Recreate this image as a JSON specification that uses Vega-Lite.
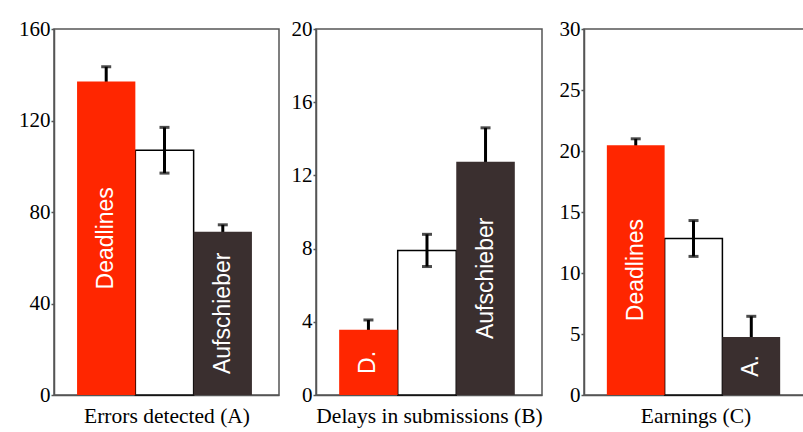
{
  "$schema": "https://vega.github.io/schema/vega-lite/v6.json",
  "padding": {"left": 17, "top": 17, "right": 0, "bottom": 5},
  "spacing": 5,
  "background": "white",
  "config": {
    "view": {"stroke": "#555555", "strokeWidth": 1.5},
    "axis": {"grid": false, "domainColor": "#555555", "domainWidth": 1.5, "tickColor": "#555555", "tickSize": 3, "tickWidth": 1.5, "labelFont": "Liberation Serif", "labelFontSize": 21, "labelColor": "black", "labelPadding": 1, "titleFont": "Liberation Serif", "titleFontSize": 21.5, "titleFontWeight": "normal", "titleColor": "black"},
    "axisX": {"labels": false, "ticks": false, "titleBaseline": "alphabetic", "titlePadding": 27}
  },
  "datasets": {
    "A": [
      {"group": "Deadlines", "value": 137, "err": 6.5, "label": "Deadlines"},
      {"group": "Kontrolle", "value": 107, "err": 10, "label": ""},
      {"group": "Aufschieber", "value": 71.4, "err": 3, "label": "Aufschieber"}
    ],
    "B": [
      {"group": "Deadlines", "value": 3.56, "err": 0.54, "label": "D."},
      {"group": "Kontrolle", "value": 7.9, "err": 0.88, "label": ""},
      {"group": "Aufschieber", "value": 12.75, "err": 1.85, "label": "Aufschieber"}
    ],
    "C": [
      {"group": "Deadlines", "value": 20.48, "err": 0.52, "label": "Deadlines"},
      {"group": "Kontrolle", "value": 12.83, "err": 1.47, "label": ""},
      {"group": "Aufschieber", "value": 4.76, "err": 1.69, "label": "A."}
    ]
  },
  "hconcat": [
    {
      "width": 225, "height": 366,
      "data": {"name": "A"},
      "resolve": {"scale": {"y": "independent"}},
      "layer": [
        {"layer": [
          {"transform": [{"filter": "datum.group === 'Kontrolle'"}],
           "mark": {"type": "bar", "fill": "white", "stroke": "black", "strokeWidth": 1.5},
           "encoding": {
             "x": {"field": "group", "type": "nominal", "scale": {"domain": ["Deadlines", "Kontrolle", "Aufschieber"], "paddingInner": 0, "paddingOuter": 0.43, "align": 0.46}, "axis": {"title": "Errors detected (A)"}},
             "y": {"field": "value", "type": "quantitative", "scale": {"domain": [0, 160]}, "axis": {"title": null, "values": [0, 40, 80, 120, 160], "minExtent": 36}}
           }},
          {"mark": {"type": "errorbar", "ticks": {"size": 10}, "thickness": 3, "color": "black"},
           "encoding": {
             "x": {"field": "group", "type": "nominal"},
             "y": {"field": "value", "type": "quantitative"},
             "yError": {"field": "err"}
           }},
          {"transform": [{"filter": "datum.group !== 'Kontrolle'"}],
           "mark": {"type": "bar"},
           "encoding": {
             "x": {"field": "group", "type": "nominal"},
             "y": {"field": "value", "type": "quantitative"},
             "color": {"field": "group", "type": "nominal", "scale": {"domain": ["Deadlines", "Aufschieber"], "range": ["#FF2600", "#3A2F2F"]}, "legend": null}
           }}
        ]},
        {"transform": [{"filter": "datum.label !== ''"}],
         "mark": {"type": "text", "angle": 270, "font": "Liberation Sans", "fontSize": 23, "color": "white", "align": "center", "baseline": "middle"},
         "encoding": {
           "x": {"field": "group", "type": "nominal"},
           "y": {"field": "value", "type": "quantitative", "scale": {"domain": [0, 320]}, "axis": null},
           "text": {"field": "label"}
         }}
      ]
    },
    {
      "width": 226, "height": 366,
      "data": {"name": "B"},
      "resolve": {"scale": {"y": "independent"}},
      "layer": [
        {"layer": [
          {"transform": [{"filter": "datum.group === 'Kontrolle'"}],
           "mark": {"type": "bar", "fill": "white", "stroke": "black", "strokeWidth": 1.5},
           "encoding": {
             "x": {"field": "group", "type": "nominal", "scale": {"domain": ["Deadlines", "Kontrolle", "Aufschieber"], "paddingInner": 0, "paddingOuter": 0.43, "align": 0.46}, "axis": {"title": "Delays in submissions (B)"}},
             "y": {"field": "value", "type": "quantitative", "scale": {"domain": [0, 20]}, "axis": {"title": null, "values": [0, 4, 8, 12, 16, 20], "minExtent": 30}}
           }},
          {"mark": {"type": "errorbar", "ticks": {"size": 10}, "thickness": 3, "color": "black"},
           "encoding": {
             "x": {"field": "group", "type": "nominal"},
             "y": {"field": "value", "type": "quantitative"},
             "yError": {"field": "err"}
           }},
          {"transform": [{"filter": "datum.group !== 'Kontrolle'"}],
           "mark": {"type": "bar"},
           "encoding": {
             "x": {"field": "group", "type": "nominal"},
             "y": {"field": "value", "type": "quantitative"},
             "color": {"field": "group", "type": "nominal", "scale": {"domain": ["Deadlines", "Aufschieber"], "range": ["#FF2600", "#3A2F2F"]}, "legend": null}
           }}
        ]},
        {"transform": [{"filter": "datum.label !== ''"}],
         "mark": {"type": "text", "angle": 270, "font": "Liberation Sans", "fontSize": 23, "color": "white", "align": "center", "baseline": "middle"},
         "encoding": {
           "x": {"field": "group", "type": "nominal"},
           "y": {"field": "value", "type": "quantitative", "scale": {"domain": [0, 40]}, "axis": null},
           "text": {"field": "label"}
         }}
      ]
    },
    {
      "width": 223, "height": 366,
      "data": {"name": "C"},
      "resolve": {"scale": {"y": "independent"}},
      "layer": [
        {"layer": [
          {"transform": [{"filter": "datum.group === 'Kontrolle'"}],
           "mark": {"type": "bar", "fill": "white", "stroke": "black", "strokeWidth": 1.5},
           "encoding": {
             "x": {"field": "group", "type": "nominal", "scale": {"domain": ["Deadlines", "Kontrolle", "Aufschieber"], "paddingInner": 0, "paddingOuter": 0.43, "align": 0.46}, "axis": {"title": "Earnings (C)"}},
             "y": {"field": "value", "type": "quantitative", "scale": {"domain": [0, 30]}, "axis": {"title": null, "values": [0, 5, 10, 15, 20, 25, 30], "minExtent": 35}}
           }},
          {"mark": {"type": "errorbar", "ticks": {"size": 10}, "thickness": 3, "color": "black"},
           "encoding": {
             "x": {"field": "group", "type": "nominal"},
             "y": {"field": "value", "type": "quantitative"},
             "yError": {"field": "err"}
           }},
          {"transform": [{"filter": "datum.group !== 'Kontrolle'"}],
           "mark": {"type": "bar"},
           "encoding": {
             "x": {"field": "group", "type": "nominal"},
             "y": {"field": "value", "type": "quantitative"},
             "color": {"field": "group", "type": "nominal", "scale": {"domain": ["Deadlines", "Aufschieber"], "range": ["#FF2600", "#3A2F2F"]}, "legend": null}
           }}
        ]},
        {"transform": [{"filter": "datum.label !== ''"}],
         "mark": {"type": "text", "angle": 270, "font": "Liberation Sans", "fontSize": 23, "color": "white", "align": "center", "baseline": "middle"},
         "encoding": {
           "x": {"field": "group", "type": "nominal"},
           "y": {"field": "value", "type": "quantitative", "scale": {"domain": [0, 60]}, "axis": null},
           "text": {"field": "label"}
         }}
      ]
    }
  ]
}
